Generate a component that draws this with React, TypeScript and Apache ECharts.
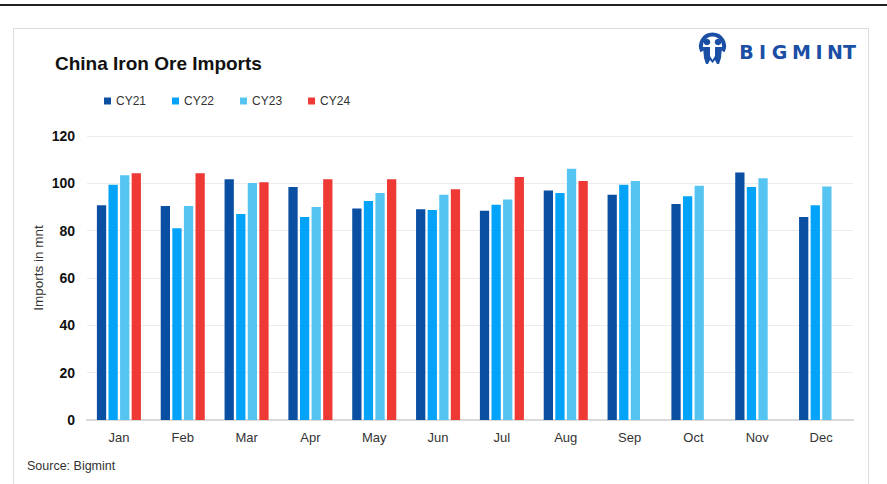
import React, { useEffect, useRef } from "react";
import * as echarts from "echarts";

const months = ["Jan", "Feb", "Mar", "Apr", "May", "Jun", "Jul", "Aug", "Sep", "Oct", "Nov", "Dec"];
const cy21 = [90.7, 90.4, 101.7, 98.4, 89.4, 89.0, 88.4, 97.0, 95.2, 91.3, 104.6, 85.8];
const cy22 = [99.4, 81.0, 87.0, 85.8, 92.5, 88.7, 91.0, 95.9, 99.4, 94.5, 98.4, 90.7];
const cy23 = [103.4, 90.4, 100.1, 90.0, 95.9, 95.2, 93.2, 106.2, 101.0, 99.0, 102.2, 98.7];
const cy24 = [104.3, 104.3, 100.5, 101.7, 101.7, 97.5, 102.7, 101.0, null, null, null, null];
const seriesNames = ["CY21", "CY22", "CY23", "CY24"];
const colors = ["#0B4FA3", "#02A3F8", "#55C4F1", "#EE3935"];
const yTicks = { min: 0, max: 120, interval: 20 };

const FONT = "'Liberation Sans', Arial, sans-serif";
const logoLetters = ["B", "I", "G", "M", "I", "N", "T"];
const logoX = [746.5, 762.5, 779.5, 801.5, 819, 835, 849.5];

export default function App() {
  const ref = useRef<HTMLDivElement>(null);
  useEffect(() => {
    if (!ref.current) return;
    const chart = echarts.init(ref.current, null, { renderer: "svg" });
    const data = [cy21, cy22, cy23, cy24];
    const logoBlue = "#1A4FA5";
    chart.setOption({
      animation: false,
      backgroundColor: "#ffffff",
      textStyle: { fontFamily: FONT },
      grid: { left: 87, right: 34, top: 136, bottom: 64, containLabel: false },
      legend: {
        left: 99,
        top: 90,
        icon: "rect",
        itemWidth: 7,
        itemHeight: 7,
        itemGap: 26,
        textStyle: { fontSize: 12, color: "#333", fontFamily: FONT },
        data: seriesNames,
      },
      xAxis: {
        type: "category",
        data: months,
        axisTick: { show: false },
        axisLine: { lineStyle: { color: "#d9d9d9", width: 2 } },
        axisLabel: { fontSize: 13, color: "#333", margin: 11, fontFamily: FONT },
      },
      yAxis: {
        type: "value",
        min: yTicks.min,
        max: yTicks.max,
        interval: yTicks.interval,
        axisLine: { show: false },
        axisTick: { show: false },
        axisLabel: { fontSize: 14, fontWeight: "bold", color: "#111", margin: 12, fontFamily: FONT },
        splitLine: { lineStyle: { color: "#ececec", width: 1 } },
      },
      series: seriesNames.map((n, i) => ({
        name: n,
        type: "bar",
        data: data[i],
        barGap: "25%",
        barCategoryGap: "31%",
        itemStyle: { color: colors[i] },
      })),
      graphic: [
        { type: "rect", shape: { x: 0, y: 4, width: 887, height: 2 }, style: { fill: "#222" }, silent: true },
        {
          type: "rect",
          shape: { x: 13.5, y: 28.5, width: 855, height: 470 },
          style: { fill: "none", stroke: "#dddddd", lineWidth: 1 },
          silent: true,
        },
        {
          type: "text",
          x: 55,
          y: 63,
          style: {
            text: "China Iron Ore Imports",
            font: `bold 19px ${FONT}`,
            fill: "#111",
            textVerticalAlign: "middle",
          },
        },
        {
          type: "text",
          x: 38,
          y: 268,
          rotation: Math.PI / 2,
          style: {
            text: "Imports in mnt",
            font: `13.5px ${FONT}`,
            fill: "#333",
            textAlign: "center",
            textVerticalAlign: "middle",
          },
        },
        {
          type: "text",
          x: 27,
          y: 466,
          style: { text: "Source: Bigmint", font: `12.5px ${FONT}`, fill: "#333", textVerticalAlign: "middle" },
        },
        // logo icon
        {
          type: "arc",
          shape: { cx: 712.5, cy: 46, r: 11.5, startAngle: Math.PI * 0.85, endAngle: Math.PI * 2.15 },
          style: { stroke: logoBlue, lineWidth: 4, fill: "none" },
        },
        { type: "circle", shape: { cx: 707, cy: 42, r: 3.3 }, style: { fill: logoBlue } },
        { type: "circle", shape: { cx: 718, cy: 42, r: 3.3 }, style: { fill: logoBlue } },
        {
          type: "polygon",
          shape: { points: [[703, 47], [710, 47], [710, 60], [708, 64], [706, 64], [704, 58]] },
          style: { fill: logoBlue },
        },
        {
          type: "polygon",
          shape: { points: [[715, 47], [722, 47], [721, 58], [719, 64], [717, 64], [715, 60]] },
          style: { fill: logoBlue },
        },
        {
          type: "polygon",
          shape: { points: [[710, 56], [712.5, 60], [715, 56], [715, 60], [712.5, 63], [710, 60]] },
          style: { fill: logoBlue },
        },
        ...logoLetters.map((l, i) => ({
          type: "text",
          x: logoX[i],
          y: 52,
          style: {
            text: l,
            font: `bold 19px 'DejaVu Sans', sans-serif`,
            fill: logoBlue,
            textAlign: "center",
            textVerticalAlign: "middle",
          },
        })),
      ],
    });
    return () => chart.dispose();
  }, []);
  return (
    <div
      ref={ref}
      style={{ position: "fixed", left: 0, top: 0, width: 887, height: 484, background: "#fff" }}
    />
  );
}
